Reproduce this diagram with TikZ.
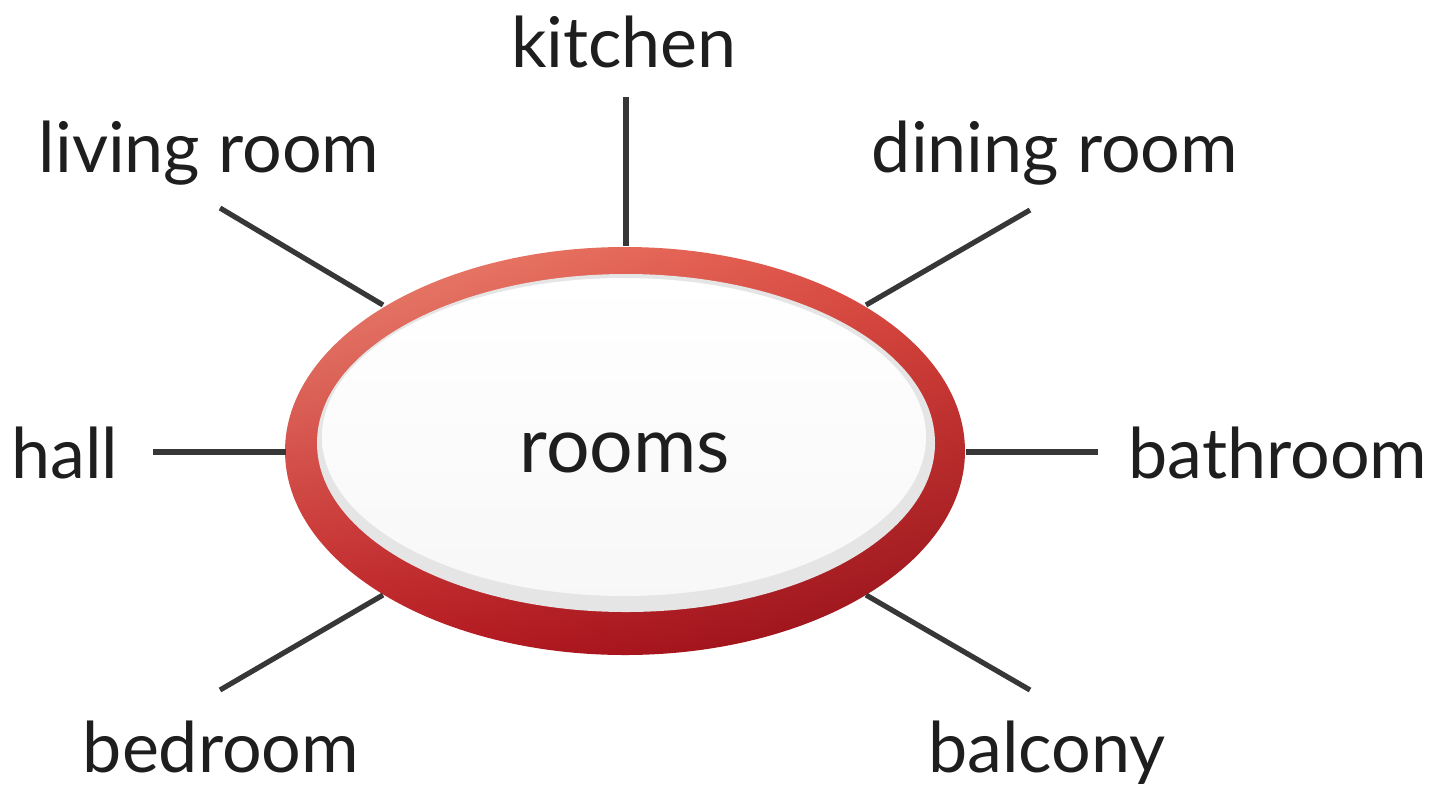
\documentclass[tikz,border=0pt]{standalone}
\usepackage{fontspec}
\setmainfont{Lato}
\usetikzlibrary{shadings}
\definecolor{ringUL}{RGB}{236,138,118}
\definecolor{ringUR}{RGB}{222,72,62}
\definecolor{ringLL}{RGB}{190,28,34}
\definecolor{ringLR}{RGB}{145,14,24}
\definecolor{linegray}{RGB}{55,55,55}
\definecolor{txt}{RGB}{30,30,30}
\tikzset{
  lbl/.style={anchor=base, inner sep=0pt, text=txt, font=\fontsize{35}{42}\selectfont},
  spoke/.style={draw=linegray, line width=2.6pt},
}
\begin{document}
\begin{tikzpicture}[x=0.5pt,y=-0.5pt]
\useasboundingbox (0,0) rectangle (1433,788);
% ring
\shade[upper left=ringUL, upper right=ringUR, lower left=ringLL, lower right=ringLR]
  (625,451) ellipse [x radius=340, y radius=204];
\fill[gray!20] (626,443) ellipse [x radius=309, y radius=169];
\shade[top color=white, bottom color=gray!6] (624,437) ellipse [x radius=302, y radius=159];
\node[lbl, font=\fontsize{38.5}{46}\selectfont] (rooms) at (625,472) {rooms};
% labels
\node[lbl] (kitchen) at (624,67) {kitchen};
\node[lbl] (living) at (209,172) {living room};
\node[lbl] (dining) at (1055,172) {dining room};
\node[lbl] (hall) at (65,478) {hall};
\node[lbl] (bath) at (1278,478) {bathroom};
\node[lbl] (bed) at (221,772) {bedroom};
\node[lbl] (balc) at (1047,772) {balcony};
% spoke end points
\coordinate (k1) at (626,97);  \coordinate (k2) at (626,246);
\coordinate (l1) at (220,208); \coordinate (l2) at (383,305);
\coordinate (d1) at (1030,210); \coordinate (d2) at (866,305);
\coordinate (h1) at (153,452); \coordinate (h2) at (286,452);
\coordinate (b1) at (1098,452); \coordinate (b2) at (966,452);
\coordinate (e1) at (220,690); \coordinate (e2) at (383,595);
\coordinate (c1) at (1030,690); \coordinate (c2) at (866,595);
\draw[spoke] (k1) -- (k2);
\draw[spoke] (l1) -- (l2);
\draw[spoke] (d1) -- (d2);
\draw[spoke] (h1) -- (h2);
\draw[spoke] (b1) -- (b2);
\draw[spoke] (e1) -- (e2);
\draw[spoke] (c1) -- (c2);
\end{tikzpicture}
\end{document}
